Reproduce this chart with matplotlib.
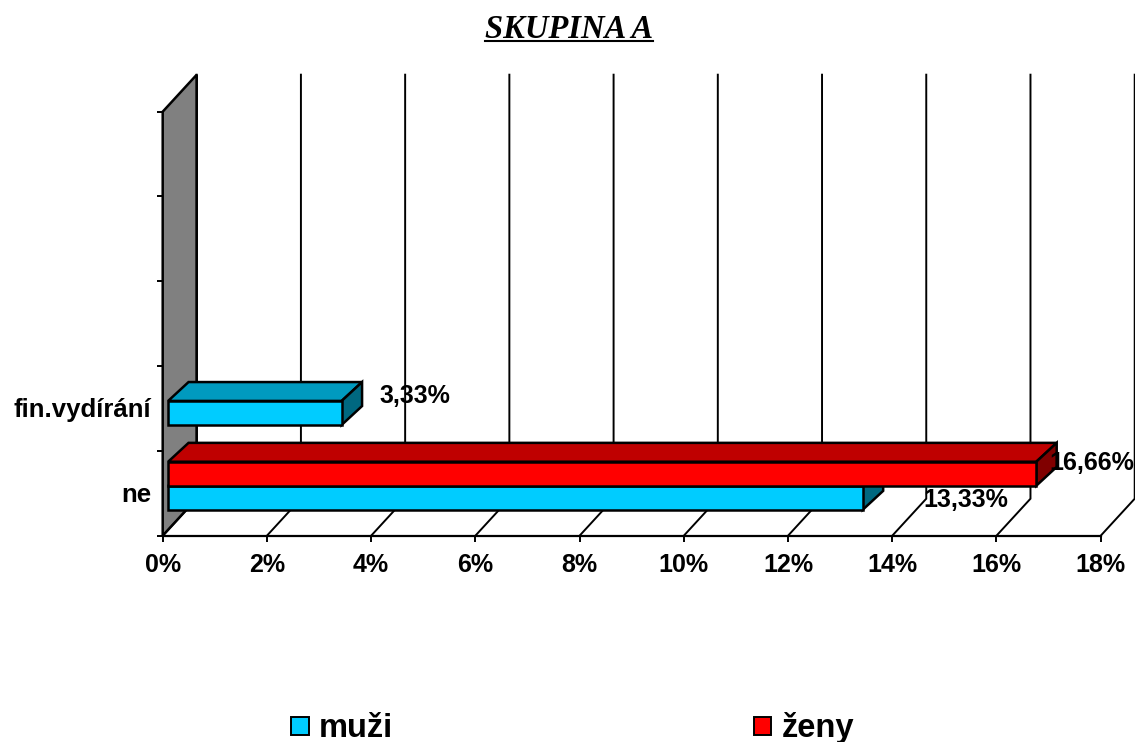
#!/usr/bin/env python3
# -*- coding: utf-8 -*-
import matplotlib
matplotlib.use("Agg")
import matplotlib.pyplot as plt
from matplotlib.patches import Polygon

categories = ["ne", "fin.vydírání", "", "", ""]
muzi = [13.33, 3.33]
zeny = [16.66, 0]
muzi_labels = ["13,33%", "3,33%"]
zeny_labels = ["16,66%", ""]
x_ticks = [0, 2, 4, 6, 8, 10, 12, 14, 16, 18]

W, H = 1135, 742
X0, X1 = 162.7, 1100.7    # front plane of the plot, pixels
Y0, Y1 = 535.7, 111.7
DX, DY = 34.0, 37.0       # full depth of the 3d box, pixels
PX = (X1 - X0) / 18.0
PY = (Y0 - Y1) / 5.0

CYAN = ("#00CCFF", "#009ABF", "#006880")
RED = ("#FF0000", "#BF0000", "#800000")

plt.rcParams['font.family'] = ['Liberation Sans', 'DejaVu Sans']


def proj(x, y, d, k=1.0):
    # shear a point at depth d (0 front, 1 back) into the 2d axes
    return (x + d * DX / PX, y + k * d * DY / PY)


def box(ax, y0, y1, val, cols, d0=0.16, d1=0.76, k=0.85):
    def face(pts, col):
        ax.add_patch(Polygon([proj(*p, k) for p in pts], closed=True, fc=col, ec="black",
                             lw=1.8, clip_on=False, joinstyle="miter", zorder=3))
    face([(0, y1, d0), (val, y1, d0), (val, y1, d1), (0, y1, d1)], cols[1])
    face([(val, y0, d0), (val, y1, d0), (val, y1, d1), (val, y0, d1)], cols[2])
    face([(0, y0, d0), (val, y0, d0), (val, y1, d0), (0, y1, d0)], cols[0])


def main():
    fig = plt.figure(figsize=(W / 100, H / 100), dpi=100)
    ax = fig.add_axes([X0 / W, 1 - Y0 / H, (X1 - X0) / W, (Y0 - Y1) / H])
    ax.set_xlim(0, 18)
    ax.set_ylim(0, 5)
    ax.patch.set_visible(False)
    for s in ax.spines.values():
        s.set_visible(False)

    # grey side wall
    wall = [proj(0, 0, 0), proj(0, 5, 0), proj(0, 5, 1), proj(0, 0, 1)]
    ax.add_patch(Polygon(wall, closed=True, fc="#808080", ec="black", lw=1.8, clip_on=False, zorder=1))

    # gridlines: along the floor then up the back wall
    for t in x_ticks:
        pts = [proj(t, 0, 0), proj(t, 0, 1), proj(t, 5, 1)]
        ax.plot([p[0] for p in pts], [p[1] for p in pts], color="black", lw=1.4,
                clip_on=False, zorder=1, solid_joinstyle="miter")
    ax.plot([0, 18], [0, 0], color="black", lw=1.6, clip_on=False, zorder=2)

    ax.set_xticks(x_ticks)
    ax.set_xticklabels(["%d%%" % t for t in x_ticks], fontsize=18, fontweight="bold")
    ax.set_yticks(range(6))
    ax.set_yticklabels([""] * 6)
    ax.tick_params(axis="both", length=4.2, width=1.4, color="black")
    ax.tick_params(axis="x", pad=8)

    w = 0.283
    for i, (m, z) in enumerate(zip(muzi, zeny)):
        c = i + 0.53
        box(ax, c - w, c, m, CYAN)
        if z > 0:
            box(ax, c, c + w, z, RED)

    # category labels
    for i, name in enumerate(categories):
        if name:
            ax.annotate(name, xy=(0, i + 0.5), xycoords="data", xytext=(-8.5, -1.5 + 0.5 * i), textcoords="offset points",
                        ha="right", va="center", fontsize=18.5, fontweight="bold", zorder=6)

    # value labels
    ax.annotate(muzi_labels[0], xy=(muzi[0], 0.5), xytext=(78, -5), textcoords="offset points",
                ha="center", va="center", fontsize=18, fontweight="bold", zorder=6)
    ax.annotate(muzi_labels[1], xy=(muzi[1], 1.5), xytext=(56.5, 9), textcoords="offset points",
                ha="center", va="center", fontsize=18, fontweight="bold", zorder=6)
    ax.annotate(zeny_labels[0], xy=(zeny[0], 0.5), xytext=(44, 22), textcoords="offset points",
                ha="center", va="center", fontsize=18, fontweight="bold", zorder=6)

    # title with underline
    title = fig.text(569 / W, 1 - 38 / H, "SKUPINA A", ha="center", va="baseline", fontsize=23.5,
                     fontweight="bold", fontstyle="italic", family=["Liberation Serif", "DejaVu Serif"])
    fig.canvas.draw()
    bb = title.get_window_extent()
    fig.add_artist(plt.Line2D([bb.x0 / W, bb.x1 / W], [1 - 41 / H, 1 - 41 / H], color="black", lw=1.5))

    # legend
    for x, name, col in [(299.5, "muži", CYAN[0]), (762.5, "ženy", RED[0])]:
        fig.patches.append(plt.Rectangle(((x - 9) / W, 1 - 734.5 / H), 18 / W, 18 / H, fc=col, ec="black",
                                         lw=1.4, transform=fig.transFigure, figure=fig))
        fig.text((x + 19) / W, 1 - 737 / H, name, ha="left", va="baseline", fontsize=23.5, fontweight="bold")

    fig.savefig("out.png", dpi=100)


if __name__ == '__main__':
    main()
